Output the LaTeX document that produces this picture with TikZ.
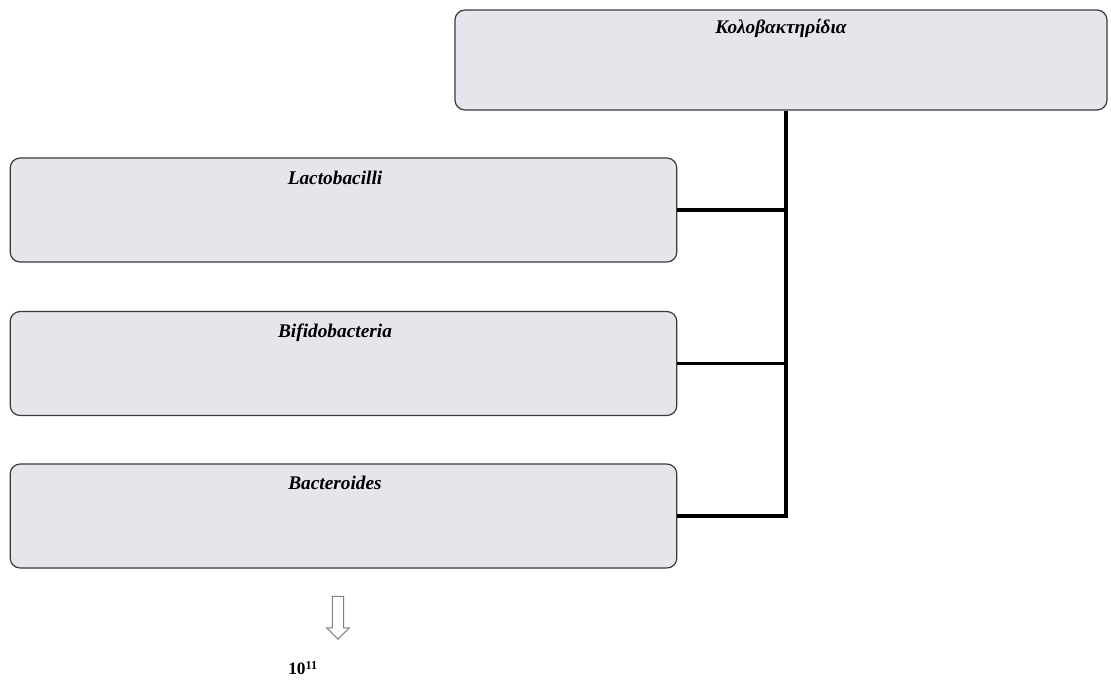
\documentclass[tikz,border=0pt]{standalone}
\usepackage{fontspec}
\setmainfont{Liberation Serif}
\usetikzlibrary{shapes.arrows}

\definecolor{boxfill}{HTML}{E4E6EC}
\definecolor{boxline}{HTML}{3A3A3A}

\begin{document}
\begin{tikzpicture}[x=0.75pt,y=0.75pt,yscale=-1,xscale=1,
    groupbox/.style={draw=boxline,line width=0.9pt,fill=boxfill,rounded corners=7.5pt,
        minimum width=500pt,minimum height=78pt,inner sep=0pt},
    boxtext/.style={font=\fontsize{14.5}{16}\selectfont\bfseries\itshape,inner sep=0.75pt},
    branch/.style={line width=2.6pt,black}]
    %set diagram to 1111 x 687
    \useasboundingbox (0,0) rectangle (1111,687);

    % Boxes
    \node [groupbox,minimum width=489pt,minimum height=75pt] (colon) at (781,60) {};
    \node [groupbox] (lacto) at (343.5,210) {};
    \node [groupbox] (bifido) at (343.5,363.5) {};
    \node [groupbox] (bactero) at (343.5,516) {};

    % Text Node
    \node [boxtext,anchor=north] (colonT) at (781,18) {Κολοβακτηρίδια};
    % Text Node
    \node [boxtext,anchor=north] (lactoT) at (335,170) {Lactobacilli};
    % Text Node
    \node [boxtext,anchor=north] (bifidoT) at (335,323) {Bifidobacteria};
    % Text Node
    \node [boxtext,anchor=north] (bacteroT) at (335,475) {Bacteroides};

    % Straight Lines
    \coordinate (spine) at (786,516);
    \draw [branch] (colon.south -| spine) -- (spine) -- (bactero.east);
    \draw [branch] (lacto.east) -- (lacto.east -| spine);
    \draw [branch] (bifido.east) -- (bifido.east -| spine);

    % Arrow
    \node [single arrow,draw=gray,fill=white,line width=0.8pt,shape border rotate=270,
        minimum height=32pt,minimum width=17pt,single arrow head extend=3pt,
        inner sep=2.5pt] (down) at (338,615) {};
    % Text Node
    \node [font=\fontsize{13}{15}\selectfont\bfseries,inner sep=0.75pt] (count) at (303,668) {10\textsuperscript{11}};
\end{tikzpicture}
\end{document}
